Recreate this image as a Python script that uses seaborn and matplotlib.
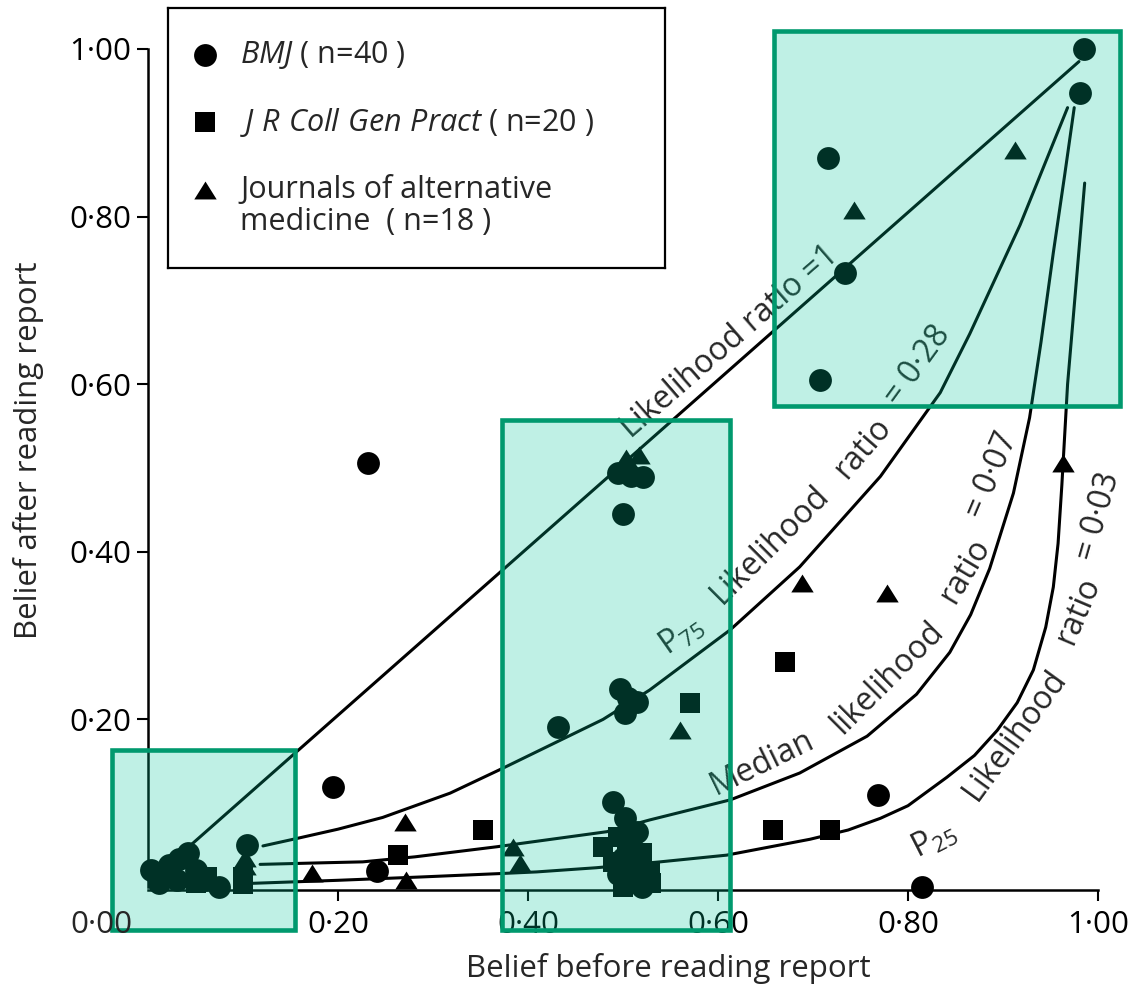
import matplotlib
matplotlib.use("Agg")
import matplotlib.pyplot as plt
import seaborn as sns
from matplotlib.patches import Rectangle
from matplotlib.ticker import FuncFormatter

# =====================================
# DATA
# =====================================

# BMJ (circles)
bmj_x = [0.985, 0.981, 0.716, 0.734, 0.707,
         0.232, 0.500, 0.495, 0.508, 0.521,
         0.432, 0.497, 0.515, 0.502, 0.505,
         0.195, 0.104, 0.241, 0.768, 0.815, 0.490,
         0.502, 0.515, 0.508, 0.500, 0.515, 0.505, 0.520, 0.510, 0.495,
         0.003, 0.012, 0.022, 0.033, 0.042, 0.030, 0.060, 0.075, 0.010, 0.050]
bmj_y = [1.000, 0.947, 0.870, 0.733, 0.605,
         0.506, 0.445, 0.494, 0.490, 0.489,
         0.191, 0.236, 0.221, 0.208, 0.225,
         0.119, 0.050, 0.019, 0.110, 0.000, 0.101,
         0.082, 0.066, 0.050, 0.035, 0.020, 0.008, 0.000, 0.045, 0.015,
         0.020, 0.005, 0.026, 0.033, 0.040, 0.008, 0.008, 0.000, 0.012, 0.020]

# J R Coll Gen Pract (squares)
rcgp_x = [0.671, 0.571, 0.658, 0.718, 0.353, 0.263, 0.479, 0.504, 0.507, 0.528,
          0.490, 0.520, 0.500, 0.530, 0.062, 0.100, 0.100, 0.050, 0.495, 0.512]
rcgp_y = [0.268, 0.220, 0.068, 0.068, 0.068, 0.038, 0.048, 0.056, 0.012, 0.017,
          0.030, 0.040, 0.000, 0.005, 0.012, 0.012, 0.003, 0.005, 0.060, 0.025]

# Journals of alternative medicine (triangles)
alt_x = [0.913, 0.743, 0.963, 0.688, 0.778, 0.560, 0.271, 0.173, 0.272,
         0.384, 0.392, 0.503, 0.517, 0.102, 0.102, 0.510, 0.500, 0.510]
alt_y = [0.879, 0.808, 0.506, 0.363, 0.351, 0.187, 0.078, 0.017, 0.008,
         0.048, 0.029, 0.512, 0.515, 0.025, 0.035, 0.010, 0.070, 0.500]

# likelihood ratio curves
lr1_x = [0.040, 0.980]
lr1_y = [0.045, 0.985]

p75_x = [0.121, 0.157, 0.200, 0.247, 0.318, 0.374, 0.479, 0.528, 0.613, 0.686,
         0.771, 0.834, 0.865, 0.918, 0.968]
p75_y = [0.049, 0.058, 0.069, 0.083, 0.112, 0.142, 0.200, 0.235, 0.307, 0.382,
         0.490, 0.590, 0.660, 0.790, 0.930]

med_x = [0.118, 0.188, 0.226, 0.281, 0.367, 0.399, 0.483, 0.528, 0.613,
         0.686, 0.757, 0.809, 0.844, 0.866, 0.886, 0.911, 0.928, 0.940,
         0.953, 0.965, 0.975]
med_y = [0.027, 0.029, 0.030, 0.036, 0.048, 0.053, 0.066, 0.080, 0.104,
         0.136, 0.180, 0.230, 0.280, 0.325, 0.380, 0.470, 0.560, 0.650,
         0.757, 0.850, 0.930]

p25_x = [0.100, 0.200, 0.288, 0.370, 0.409, 0.472, 0.539, 0.609, 0.697,
         0.737, 0.771, 0.800, 0.841, 0.870, 0.894, 0.915, 0.932, 0.945,
         0.953, 0.958, 0.962, 0.965, 0.968, 0.977, 0.986]
p25_y = [0.004, 0.008, 0.012, 0.016, 0.018, 0.023, 0.030, 0.038, 0.057,
         0.068, 0.082, 0.097, 0.131, 0.157, 0.187, 0.220, 0.259, 0.310,
         0.358, 0.410, 0.480, 0.540, 0.600, 0.720, 0.840]

tick_vals = [0.2, 0.4, 0.6, 0.8, 1.0]

# highlighted regions (x0, y0, x1, y1)
boxes = [(-0.038, -0.051, 0.155, 0.163),
         (0.373, -0.051, 0.613, 0.557),
         (0.659, 0.574, 1.023, 1.022)]

# =====================================
# STYLE
# =====================================

sns.set_style("ticks")
plt.rcParams['font.family'] = ['Open Sans', 'DejaVu Sans']
plt.rcParams['mathtext.fontset'] = 'custom'
plt.rcParams['mathtext.rm'] = 'Open Sans'
plt.rcParams['mathtext.it'] = 'Open Sans:italic'
plt.rcParams['mathtext.bf'] = 'Open Sans:bold'

fig = plt.figure(figsize=(11.38, 9.98), dpi=100)
ax = fig.add_axes([0.07162, 0.05244, 0.9266, 0.93206])
ax.set_xlim(-0.07, 1.04)
ax.set_ylim(-0.07, 1.04)

# =====================================
# CURVES + POINTS
# =====================================

for cx, cy in [(lr1_x, lr1_y), (p75_x, p75_y), (med_x, med_y), (p25_x, p25_y)]:
    sns.lineplot(x=cx, y=cy, ax=ax, color='black', linewidth=2.2,
                 sort=False, estimator=None, zorder=2)

tri = [(-1, -0.8), (1, -0.8), (0, 0.8)]
sns.scatterplot(x=bmj_x, y=bmj_y, ax=ax, marker='o', s=270, color='black',
                linewidth=0, zorder=3, clip_on=False)
sns.scatterplot(x=rcgp_x, y=rcgp_y, ax=ax, marker='s', s=215, color='black',
                linewidth=0, zorder=3, clip_on=False)
sns.scatterplot(x=alt_x, y=alt_y, ax=ax, marker=tri, s=260, color='black',
                linewidth=0, zorder=3, clip_on=False)

# =====================================
# AXES
# =====================================

for side in ['top', 'right']:
    ax.spines[side].set_visible(False)
ax.spines['left'].set_position(('data', 0))
ax.spines['bottom'].set_position(('data', -0.003))
ax.spines['left'].set_bounds(0, 1)
ax.spines['bottom'].set_bounds(0, 1)
for side in ['left', 'bottom']:
    ax.spines[side].set_linewidth(1.8)
    ax.spines[side].set_color('black')

fmt = FuncFormatter(lambda v, p: f"{v:.2f}".replace('.', '\u00b7'))
ax.set_xticks(tick_vals)
ax.set_yticks(tick_vals)
ax.xaxis.set_major_formatter(fmt)
ax.yaxis.set_major_formatter(fmt)
ax.tick_params(axis='both', direction='out', length=8, width=1.5,
               labelsize=22.5, colors='black')
ax.tick_params(axis='x', pad=7)
ax.tick_params(axis='y', pad=4)

fig.text(101 / 1138, 1 - 925 / 998, '0\u00b700', fontsize=22.5,
         ha='center', va='center')
fig.text(668 / 1138, 1 - 968 / 998, 'Belief before reading report',
         fontsize=22.5, ha='center', va='center')
fig.text(29 / 1138, 1 - 450 / 998, 'Belief after reading report',
         fontsize=22.5, ha='center', va='center', rotation=90)

# =====================================
# CURVE LABELS
# =====================================

labels = [
    ('Likelihood ratio =1', 0.612, 0.650, 41),
    ('P$_{75}$', 0.562, 0.300, 35),
    ('Likelihood', 0.655, 0.408, 45),
    ('ratio', 0.752, 0.524, 49),
    ('= 0\u00b728', 0.810, 0.622, 54),
    ('Median', 0.647, 0.148, 26),
    ('likelihood', 0.778, 0.250, 45),
    ('ratio', 0.860, 0.378, 59),
    ('= 0\u00b707', 0.888, 0.492, 67),
    ('P$_{25}$', 0.828, 0.056, 27),
    ('Likelihood', 0.913, 0.182, 54),
    ('ratio', 0.979, 0.330, 67),
    ('= 0\u00b703', 1.000, 0.442, 74),
]
for txt, tx, ty, rot in labels:
    ax.text(tx, ty, txt, fontsize=23, rotation=rot, rotation_mode='anchor',
            ha='center', va='center', zorder=4)

# =====================================
# HIGHLIGHT BOXES
# =====================================

for x0, y0, x1, y1 in boxes:
    ax.add_patch(Rectangle((x0, y0), x1 - x0, y1 - y0,
                           facecolor=(0.0, 0.78, 0.60, 0.25), edgecolor='none',
                           zorder=10, clip_on=False))
    ax.add_patch(Rectangle((x0, y0), x1 - x0, y1 - y0,
                           facecolor='none', edgecolor='#00996e', linewidth=3.3,
                           zorder=11, clip_on=False))

# =====================================
# LEGEND (box at top left)
# =====================================

lax = fig.add_axes([168 / 1138, 1 - 268 / 998, 497 / 1138, 260 / 998])
lax.set_xlim(0, 1)
lax.set_ylim(0, 1)
lax.set_xticks([])
lax.set_yticks([])
for sp in lax.spines.values():
    sp.set_linewidth(1.6)
    sp.set_color('black')

sns.scatterplot(x=[0.0744], y=[0.819], ax=lax, marker='o', s=270, color='black', linewidth=0)
sns.scatterplot(x=[0.0744], y=[0.561], ax=lax, marker='s', s=215, color='black', linewidth=0)
sns.scatterplot(x=[0.0744], y=[0.300], ax=lax, marker=tri, s=260, color='black', linewidth=0)

lax.text(0.145, 0.819, r'$\mathit{BMJ}$ ( n=40 )', fontsize=22, va='center')
lax.text(0.145, 0.561, r'$\mathit{J\ R\ Coll\ Gen\ Pract}$ ( n=20 )', fontsize=22, va='center')
lax.text(0.145, 0.300, 'Journals of alternative', fontsize=22, va='center')
lax.text(0.145, 0.177, 'medicine  ( n=18 )', fontsize=22, va='center')

plt.savefig("out.png", dpi=100)
